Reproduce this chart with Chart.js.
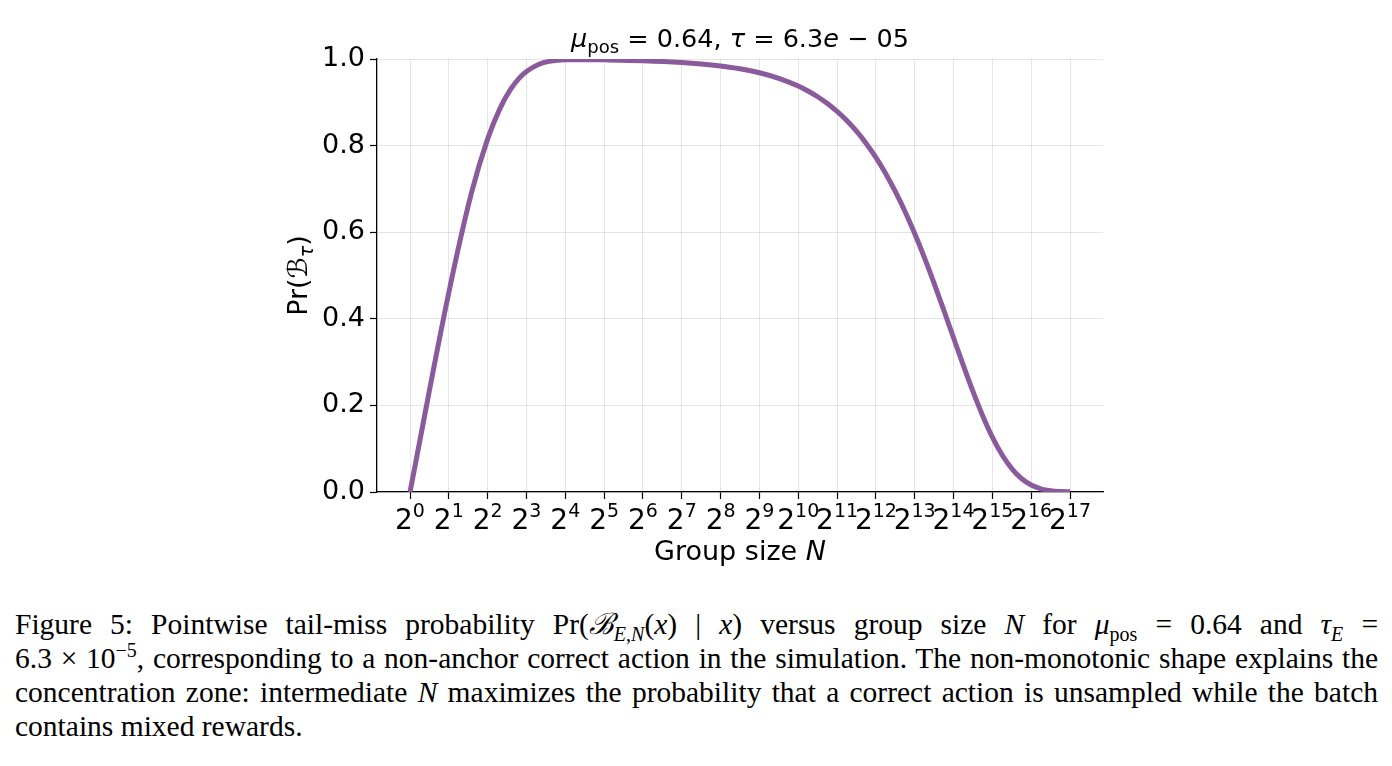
<!DOCTYPE html>
<html>
<head>
<meta charset="utf-8">
<script src="https://cdn.jsdelivr.net/npm/chart.js@4.4.1/dist/chart.umd.min.js"></script>
<style>
  body { margin: 0; background: #fff; width: 1392px; height: 766px; overflow: hidden; position: relative; }
  #wrap { position: absolute; left: 0; top: 0; width: 1392px; height: 580px; }
  #caption {
    position: absolute; left: 15px; top: 607px; width: 1363px;
    font-family: "Liberation Serif", "Times New Roman", serif; font-size: 29.5px; line-height: 34px;
    color: #000;
  }
  #caption .ln { white-space: nowrap; text-align: justify; text-align-last: justify; }
  #caption .ln.last { text-align-last: left; }
  #caption sub { font-size: 20px; line-height: 0; }
  #caption sup { font-size: 20px; line-height: 0; }
</style>
</head>
<body>
<div id="wrap"><canvas id="tailChart" width="1392" height="580"></canvas></div>
<div id="caption">
  <div class="ln">Figure 5: Pointwise tail-miss probability Pr(<i>ℬ</i><sub><i>E</i>,<i>N</i></sub>(<i>x</i>) | <i>x</i>) versus group size <i>N</i> for <i>μ</i><sub>pos</sub> = 0.64 and <i>τ</i><sub><i>E</i></sub> =</div>
  <div class="ln">6.3 × 10<sup>−5</sup>, corresponding to a non-anchor correct action in the simulation. The non-monotonic shape explains the</div>
  <div class="ln">concentration zone: intermediate <i>N</i> maximizes the probability that a correct action is unsampled while the batch</div>
  <div class="ln last">contains mixed rewards.</div>
</div>
<script>
// group sizes N and the curve values
const group_Sizes = [1, 2, 3, 4, 5, 6, 7, 8, 10, 12, 16, 24, 32, 64, 128, 181, 256, 362, 512, 724,
  1024, 1218, 1448, 1722, 2048, 2435, 2896, 3444, 4096, 4871, 5793, 6889, 8192, 9742, 11585, 13777,
  16384, 19484, 23170, 27554, 32768, 38968, 46341, 55109, 65536, 77936, 92682, 110218, 131072];
const tail_Miss = [0, 0.4607, 0.6912, 0.8154, 0.8866, 0.9291, 0.9552, 0.9711, 0.9878, 0.9945, 0.9982, 0.9985, 0.9980, 0.9960, 0.9920, 0.9887, 0.9840, 0.9775, 0.9683, 0.9554,
  0.9375, 0.9261, 0.9128, 0.8972, 0.8789, 0.8578, 0.8332, 0.8050, 0.7726, 0.7358, 0.6942, 0.6479, 0.5968, 0.5413, 0.4820, 0.4198,
  0.3562, 0.2930, 0.2323, 0.1763, 0.1269, 0.0859, 0.0540, 0.0311, 0.0161, 0.0074, 0.0029, 0.0010, 0.0003];
const x_Exponents = [0, 1, 2, 3, 4, 5, 6, 7, 8, 9, 10, 11, 12, 13, 14, 15, 16, 17];
const y_Ticks = [0, 0.2, 0.4, 0.6, 0.8, 1.0];

const FONT = "'DejaVu Sans', sans-serif";

// draw a row of text pieces (normal / italic / sub / sup) centred on cx
function drawRuns(ctx, runs, cx, baseY)
{
    let total = 0;
    runs.forEach(r => { ctx.font = r.font; r.w = ctx.measureText(r.t).width; total += r.w; });
    let x = cx - total / 2;
    ctx.textAlign = "left";
    ctx.textBaseline = "alphabetic";
    runs.forEach(r => {
        ctx.font = r.font;
        ctx.fillText(r.t, x, baseY + (r.dy || 0));
        x += r.w;
    });
}

const textPlugin = {
    id: "mathText",
    afterDraw(chart) {
        const ctx = chart.ctx;
        const xs = chart.scales.x;
        const area = chart.chartArea;
        ctx.save();
        ctx.fillStyle = "#000";

        // x tick labels 2^k
        x_Exponents.forEach(k => {
            const px = xs.getPixelForValue(k);
            drawRuns(ctx, [
                { t: "2", font: "28px " + FONT },
                { t: String(k), font: "19px " + FONT, dy: -12 }
            ], px, 529);
        });

        // title
        drawRuns(ctx, [
            { t: "μ", font: "italic 25.5px " + FONT },
            { t: "pos", font: "18px " + FONT, dy: 6 },
            { t: " = 0.64, ", font: "25.5px " + FONT },
            { t: "τ", font: "italic 25.5px " + FONT },
            { t: " = 6.3", font: "25.5px " + FONT },
            { t: "e", font: "italic 25.5px " + FONT },
            { t: " − 05", font: "25.5px " + FONT }
        ], (area.left + area.right) / 2, 47);

        // x axis title
        drawRuns(ctx, [
            { t: "Group size ", font: "27px " + FONT },
            { t: "N", font: "italic 27px " + FONT }
        ], (area.left + area.right) / 2, 560);

        // y axis title, rotated
        ctx.translate(307, (area.top + area.bottom) / 2);
        ctx.rotate(-Math.PI / 2);
        drawRuns(ctx, [
            { t: "Pr(", font: "27px " + FONT },
            { t: "ℬ", font: "italic 27px " + FONT },
            { t: "τ", font: "italic 19px " + FONT, dy: 6 },
            { t: ")", font: "27px " + FONT }
        ], 0, 0);
        ctx.restore();
    }
};

const points = group_Sizes.map((n, i) => ({ x: Math.log2(n), y: tail_Miss[i] }));

new Chart(document.getElementById("tailChart").getContext("2d"), {
    type: "line",
    data: {
        datasets: [{
            data: points,
            borderColor: "#8a5a9c",
            borderWidth: 5,
            pointRadius: 0,
            fill: false,
            tension: 0.3,
            cubicInterpolationMode: "monotone"
        }]
    },
    options: {
        responsive: false,
        animation: false,
        devicePixelRatio: 1,
        layout: { padding: { top: 59, right: 289, left: 0, bottom: 0 } },
        plugins: { legend: { display: false }, tooltip: { enabled: false } },
        scales: {
            x: {
                type: "linear",
                min: -0.85,
                max: 17.85,
                afterBuildTicks: s => { s.ticks = x_Exponents.map(v => ({ value: v })); },
                afterFit: s => { s.height = 88; },
                ticks: { display: false },
                grid: { color: "rgba(0,0,0,0.1)", lineWidth: 1, tickColor: "#000", tickLength: 7, tickWidth: 1.2 },
                border: { color: "#000", width: 1.3 }
            },
            y: {
                min: 0,
                max: 1,
                afterBuildTicks: s => { s.ticks = y_Ticks.map(v => ({ value: v })); },
                afterFit: s => { s.width = 377; },
                ticks: {
                    color: "#000",
                    font: { family: "DejaVu Sans", size: 27 },
                    padding: 5,
                    callback: v => v.toFixed(1)
                },
                grid: { color: "rgba(0,0,0,0.1)", lineWidth: 1, tickColor: "#000", tickLength: 7, tickWidth: 1.2 },
                border: { color: "#000", width: 1.3 }
            }
        }
    },
    plugins: [textPlugin]
});
</script>
</body>
</html>
